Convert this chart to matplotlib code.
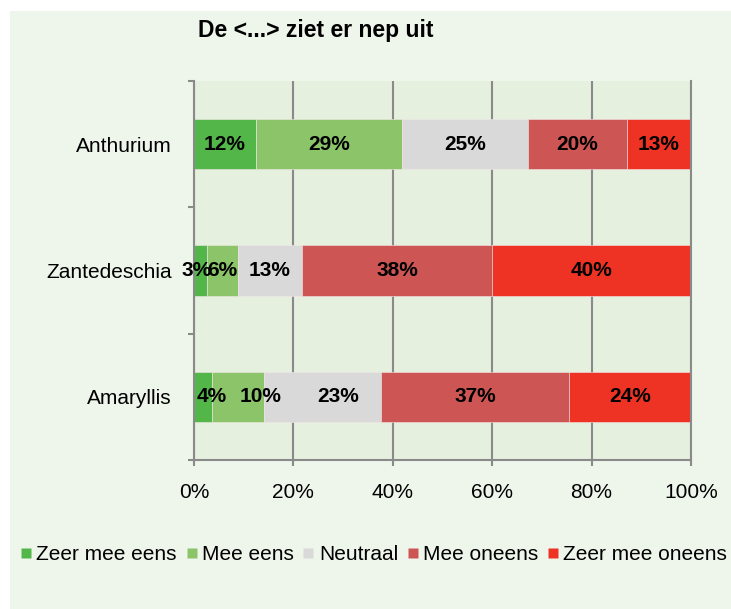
import numpy as np
import matplotlib.pyplot as plt
from matplotlib.patches import Rectangle
from matplotlib.lines import Line2D

plt.rcParams['font.family'] = ['Liberation Sans', 'DejaVu Sans']

title = 'De <...> ziet er nep uit'
categories = ['Anthurium', 'Zantedeschia', 'Amaryllis']
answers = ['Zeer mee eens', 'Mee eens', 'Neutraal', 'Mee oneens', 'Zeer mee oneens']
colors = ['#52B748', '#8CC46A', '#D9D9D9', '#CD5654', '#EE3324']

# percentages per answer, one value per category (top to bottom)
zeer_eens = [12.4, 2.7, 3.6]
mee_eens = [29.4, 6.1, 10.4]
neutraal = [25.4, 12.9, 23.3]
mee_oneens = [19.9, 38.3, 37.4]
zeer_oneens = [12.9, 40.0, 24.4]

xticks = [0, 20, 40, 60, 80, 100]

# labels that were dragged sideways in the original (category, answer) -> shift in %
label_nudge = {(1, 0): -0.8, (2, 0): 1.7, (2, 1): 4.5, (2, 2): 3.2}

series = np.array([zeer_eens, mee_eens, neutraal, mee_oneens, zeer_oneens])
totals = series.sum(axis=0)
shares = series / totals * 100  # 100% stacked

gray = '#8A8A8A'
fig = plt.figure(figsize=(7.31, 6.09), dpi=100)
fig.patch.set_facecolor('white')
fig.add_artist(Rectangle((9.5 / 731, 0), 1, 1 - 10.5 / 609, transform=fig.transFigure,
                         facecolor='#EEF6EB', edgecolor='none', zorder=-10))

ax = fig.add_axes([194 / 731, 1 - 460 / 609, 497 / 731, 379 / 609])
ax.set_facecolor('#E6F0DF')

y = np.arange(len(categories))
left = np.zeros(len(categories))
for i in range(len(answers)):
    ax.barh(y, shares[i], left=left, height=0.4, color=colors[i],
            edgecolor='#F2E6E6', linewidth=0.4, zorder=2)
    for j in range(len(categories)):
        xc = left[j] + shares[i][j] / 2 + label_nudge.get((j, i), 0)
        ax.text(xc, y[j], '%d%%' % int(series[i][j] + 0.5),
                ha='center', va='center', fontsize=15, fontweight='bold', zorder=3)
    left += shares[i]

ax.set_xlim(0, 100)
ax.set_ylim(2.5, -0.5)
ax.set_xticks(xticks)
ax.set_xticklabels(['%d%%' % t for t in xticks], fontsize=15)
ax.set_yticks(y)
ax.set_yticklabels(categories, fontsize=15)
ax.set_yticks([-0.5, 0.5, 1.5, 2.5], minor=True)
ax.tick_params(axis='y', which='major', length=0, pad=16)
ax.tick_params(axis='y', which='minor', length=4.5, width=1.5, color=gray)
ax.tick_params(axis='x', length=4.5, width=1.5, color=gray, pad=12)
ax.grid(axis='x', color=gray, linewidth=1.5)
ax.set_axisbelow(True)
for s in ['left', 'bottom', 'right']:
    ax.spines[s].set_color(gray)
    ax.spines[s].set_linewidth(1.5)
ax.spines['top'].set_visible(False)

fig.text(198 / 731, 1 - 37.5 / 609, title, fontsize=16.5, fontweight='bold', va='baseline')

handles = [Line2D([], [], linestyle='none', marker='s', markersize=7.5,
                  markerfacecolor=c, markeredgecolor='none') for c in colors]
fig.legend(handles, answers, loc='center', bbox_to_anchor=(374 / 731, 1 - 555 / 609),
           ncol=5, frameon=False, fontsize=15, handlelength=0.5, handletextpad=0.25,
           columnspacing=0.45, borderpad=0, borderaxespad=0)

fig.savefig('out.png', dpi=100)
